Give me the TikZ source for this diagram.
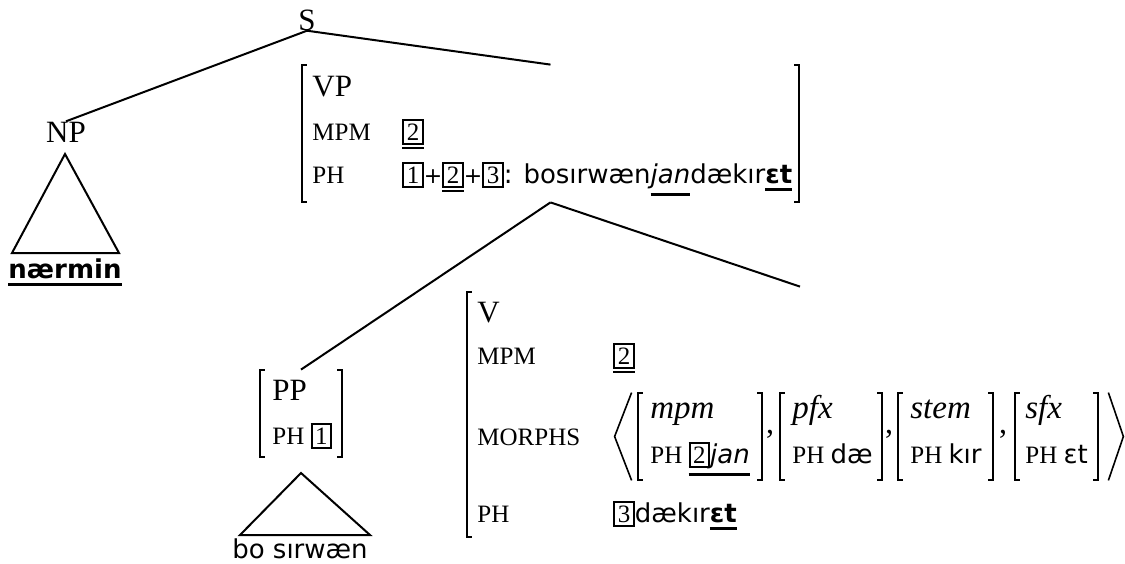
\documentclass[tikz,border=0pt]{standalone}
\usepackage{fontspec}
\setmainfont{Liberation Serif}
\newfontfamily\snf{DejaVu Sans}[ItalicFont={DejaVu Sans Oblique},BoldFont={DejaVu Sans Bold}]
\usetikzlibrary{fit}
\newcommand\tg[1]{{\fboxsep=1.25pt\fboxrule=1pt\fbox{\rmfamily\upshape\mdseries\fontsize{12.5}{12.5}\selectfont #1}}}
\newcommand\uln[2][2.5pt]{\setbox0\hbox{#2}\leavevmode\rlap{\rule[\dimexpr-\dp0-#1-1.2pt\relax]{\wd0}{1.2pt}}\box0}
\newcommand\Sn[1]{{\snf\fontsize{13}{14}\selectfont #1}}
\newcommand\pl{{\snf\fontsize{11}{14}\selectfont+}}
\newcommand\lbrk[1]{\draw[brk] ([xshift=2.5pt]#1.north west) -- (#1.north west) -- (#1.south west) -- ([xshift=2.5pt]#1.south west);}
\newcommand\rbrk[1]{\draw[brk] ([xshift=-2.5pt]#1.north east) -- (#1.north east) -- (#1.south east) -- ([xshift=-2.5pt]#1.south east);}
\tikzset{
  lab/.style={inner sep=0pt, font=\fontsize{15.5}{17}\selectfont},
  key/.style={inner sep=0pt, anchor=base west, font=\fontsize{12.5}{14}\selectfont},
  val/.style={inner sep=0pt, anchor=base west, font=\snf\fontsize{13}{14}\selectfont},
  ital/.style={inner sep=0pt, anchor=base west, font=\fontsize{16.5}{18}\selectfont\itshape},
  brk/.style={line width=1pt},
  edge/.style={line width=1pt},
  ang/.style={line width=0.8pt},
  box/.style={inner sep=0pt, draw=none},
}
\begin{document}
\begin{tikzpicture}[x=0.5pt,y=-0.5pt]
\useasboundingbox (0,0) rectangle (1125,563);
% tree labels
\node[lab, anchor=base] (S) at (307,30) {S};
\node[lab, anchor=base] (NP) at (66,142) {NP};
% NP triangle
\coordinate (npA) at (65,154);
\coordinate (npL) at (12,253);
\coordinate (npR) at (119,253);
\draw[edge] (npA) -- (npL) -- (npR) -- cycle;
\node[inner sep=0pt, anchor=base, font=\snf\bfseries\fontsize{13}{14}\selectfont] (narmin) at (65,278) {\uln{nærmin}};
% VP AVM
\coordinate (vpa) at (302,65);
\coordinate (vpb) at (799,202);
\node[box, fit=(vpa)(vpb)] (vp) {};
\lbrk{vp}\rbrk{vp}
\node[lab, anchor=base west] (vpcat) at (312,96) {VP};
\node[key] (vpk1) at (312,140) {MPM};
\node[key] (vpv1) at (402,140) {\uln[1pt]{\tg{2}}};
\node[key] (vpk2) at (312,183) {PH};
\node[val] (vpv2) at (402,183) {\tg{1}\pl\uln[1pt]{\tg{2}}\pl\tg{3}: bosırwæn\uln{\textit{jan}}dækır\uln{\textbf{εt}}};
% PP AVM
\coordinate (ppa) at (260,370);
\coordinate (ppb) at (342,457);
\node[box, fit=(ppa)(ppb)] (pp) {};
\lbrk{pp}\rbrk{pp}
\node[lab, anchor=base west] (ppcat) at (272,400) {PP};
\node[key] (ppk1) at (272,444) {PH \tg{1}};
\coordinate (ppA) at (301,473);
\coordinate (ppL) at (240,535);
\coordinate (ppR) at (370,535);
\draw[edge] (ppA) -- (ppL) -- (ppR) -- cycle;
\node[inner sep=0pt, anchor=base, font=\snf\fontsize{13}{14}\selectfont] (bosirwan) at (300,558) {bo sırwæn};
% V AVM
\coordinate (va) at (467,292);
\coordinate (vb) at (1133,537);
\node[box, fit=(va)(vb)] (v) {};
\lbrk{v}
\node[lab, anchor=base west] (vcat) at (477,322) {V};
\node[key] (vk1) at (477,364) {MPM};
\node[key] (vv1) at (613,364) {\uln[1pt]{\tg{2}}};
\node[key] (vk2) at (477,445) {MORPHS};
\node[key] (vk3) at (477,522) {PH};
\node[val] (vv3) at (613,522) {\tg{3}dækır\uln{\textbf{εt}}};
% MORPHS list
\coordinate (mla) at (615,393);
\coordinate (mlb) at (1123,480);
\node[box, fit=(mla)(mlb)] (ml) {};
\draw[ang] ([xshift=8.5pt]ml.north west) -- (ml.west) -- ([xshift=8.5pt]ml.south west);
\draw[ang] ([xshift=-7.5pt]ml.north east) -- (ml.east) -- ([xshift=-7.5pt]ml.south east);
\coordinate (m1a) at (638,393); \coordinate (m1b) at (762,480);
\node[box, fit=(m1a)(m1b)] (m1) {};
\coordinate (m2a) at (780,393); \coordinate (m2b) at (882,480);
\node[box, fit=(m2a)(m2b)] (m2) {};
\coordinate (m3a) at (898,393); \coordinate (m3b) at (993,480);
\node[box, fit=(m3a)(m3b)] (m3) {};
\coordinate (m4a) at (1015,393); \coordinate (m4b) at (1098,480);
\node[box, fit=(m4a)(m4b)] (m4) {};
\lbrk{m1}\rbrk{m1}\lbrk{m2}\rbrk{m2}\lbrk{m3}\rbrk{m3}\lbrk{m4}\rbrk{m4}
\node[ital] (m1t) at (650,418) {mpm};
\node[key] (m1p) at (650,463) {PH \Sn{\uln{\tg{2}\textit{jan}}}};
\node[ital] (m2t) at (792,418) {pfx};
\node[key] (m2p) at (792,463) {PH \Sn{dæ}};
\node[ital] (m3t) at (910,418) {stem};
\node[key] (m3p) at (910,463) {PH \Sn{kır}};
\node[ital] (m4t) at (1025,418) {sfx};
\node[key] (m4p) at (1025,463) {PH \Sn{εt}};
\node[inner sep=0pt, anchor=base, font=\fontsize{16}{16}\selectfont] (c1) at (770,433) {,};
\node[inner sep=0pt, anchor=base, font=\fontsize{16}{16}\selectfont] (c2) at (889,433) {,};
\node[inner sep=0pt, anchor=base, font=\fontsize{16}{16}\selectfont] (c3) at (1003,433) {,};
% connectors
\draw[edge] (S.south) -- (NP.north);
\draw[edge] (S.south) -- (vp.north);
\draw[edge] (vp.south) -- (pp.north);
\draw[edge] (vp.south) -- ([yshift=2.5pt]v.north);
\end{tikzpicture}
\end{document}
